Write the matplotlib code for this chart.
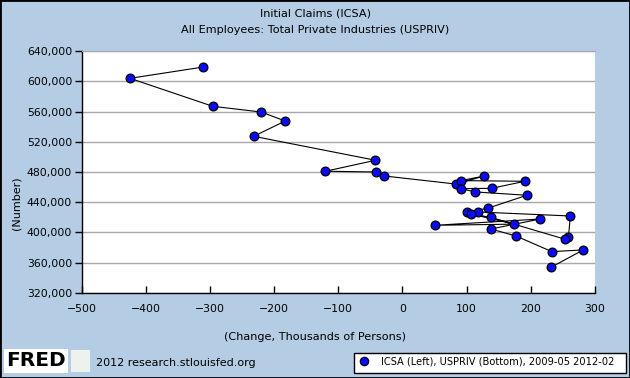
import matplotlib
matplotlib.use('Agg')
import matplotlib.pyplot as plt
from matplotlib.patches import Rectangle
from matplotlib.ticker import FuncFormatter

# monthly points 2009-05 .. 2012-02
# x = change in private payrolls (thousands), y = initial claims
usprivChange = [-311, -425, -296, -220, -183, -232, -42, -120, -41, -28,
                83, 128, 91, 191, 139, 91, 114, 194,
                133, 101, 118, 262, 259, 254, 138, 107, 174, 51, 215, 138, 177, 233, 282, 232]
icsa = [618800, 603900, 566900, 559300, 547400, 527200, 495500, 481000, 480000, 474700,
        464100, 474700, 468600, 467700, 458400, 458000, 453600, 449200,
        432000, 427100, 427100, 421800, 394500, 391000, 420000, 424500, 411000, 409500,
        417800, 404600, 395400, 374700, 376900, 354000]

yTicks = [320000, 360000, 400000, 440000, 480000, 520000, 560000, 600000, 640000]
xTicks = [-500, -400, -300, -200, -100, 0, 100, 200, 300]

bg = '#b4cde4'

fig = plt.figure(figsize=(6.3, 3.78), dpi=100)
fig.patch.set_facecolor(bg)
ax = fig.add_axes([0.130, 0.225, 0.814, 0.640])
ax.set_facecolor('white')

ax.plot(usprivChange, icsa, color='black', linewidth=0.8, zorder=2)
ax.plot(usprivChange, icsa, linestyle='none', marker='o', markersize=6.3,
        markerfacecolor='#0a0aff', markeredgecolor='black', markeredgewidth=0.9, zorder=3)

ax.set_xlim(-500, 300)
ax.set_ylim(320000, 640000)
ax.set_xticks(xTicks)
ax.set_yticks(yTicks)
ax.yaxis.set_major_formatter(FuncFormatter(lambda v, p: '{:,.0f}'.format(v)))
ax.grid(axis='y', color='#a8a8a8', linewidth=1)
ax.set_axisbelow(True)
ax.tick_params(axis='y', direction='out', length=5, width=1, labelsize=7.8, pad=2)
ax.tick_params(axis='x', direction='in', length=5, width=1, labelsize=7.8, pad=8)

for s in ['left', 'bottom']:
    ax.spines[s].set_color('black')
    ax.spines[s].set_linewidth(1)
ax.spines['top'].set_color('#a8a8a8')
ax.spines['right'].set_visible(False)

fig.text(0.5, 1 - 14 / 378, 'Initial Claims (ICSA)', ha='center', va='center', fontsize=8.1)
fig.text(0.5, 1 - 30 / 378, 'All Employees: Total Private Industries (USPRIV)',
         ha='center', va='center', fontsize=8.1)
fig.text(16 / 630, 1 - 203 / 378, '(Number)', rotation=90, ha='center', va='center', fontsize=8)
fig.text(315 / 630, 1 - 337 / 378, '(Change, Thousands of Persons)', ha='center', va='center', fontsize=8.1)

# FRED footer
fig.text(6 / 630, 1 - 361 / 378, 'FRED', fontsize=14.5, fontweight='bold', ha='left', va='center',
         bbox=dict(facecolor='white', edgecolor='none', pad=1.5))
fig.patches.append(Rectangle((71 / 630, 1 - 372 / 378), 19 / 630, 22 / 378,
                             transform=fig.transFigure, facecolor='#eef2ee', edgecolor='none'))
fig.text(96 / 630, 1 - 363 / 378, '2012 research.stlouisfed.org', fontsize=8, ha='left', va='center')

# legend box
fig.patches.append(Rectangle((354 / 630, 1 - 373 / 378), 272 / 630, 20 / 378,
                             transform=fig.transFigure, facecolor='white', edgecolor='black',
                             linewidth=1))
fig.lines.append(plt.Line2D([364 / 630], [1 - 361 / 378], transform=fig.transFigure,
                            marker='o', markersize=6, markerfacecolor='#0a0aff',
                            markeredgecolor='black', markeredgewidth=0.9))
fig.text(381 / 630, 1 - 362 / 378, 'ICSA (Left), USPRIV (Bottom), 2009-05 2012-02',
         fontsize=7.1, ha='left', va='center')

# outer border
fig.patches.append(Rectangle((0, 0), 1, 1, transform=fig.transFigure, facecolor='none',
                             edgecolor='black', linewidth=2))

fig.savefig('out.png', dpi=100, facecolor=fig.get_facecolor())
